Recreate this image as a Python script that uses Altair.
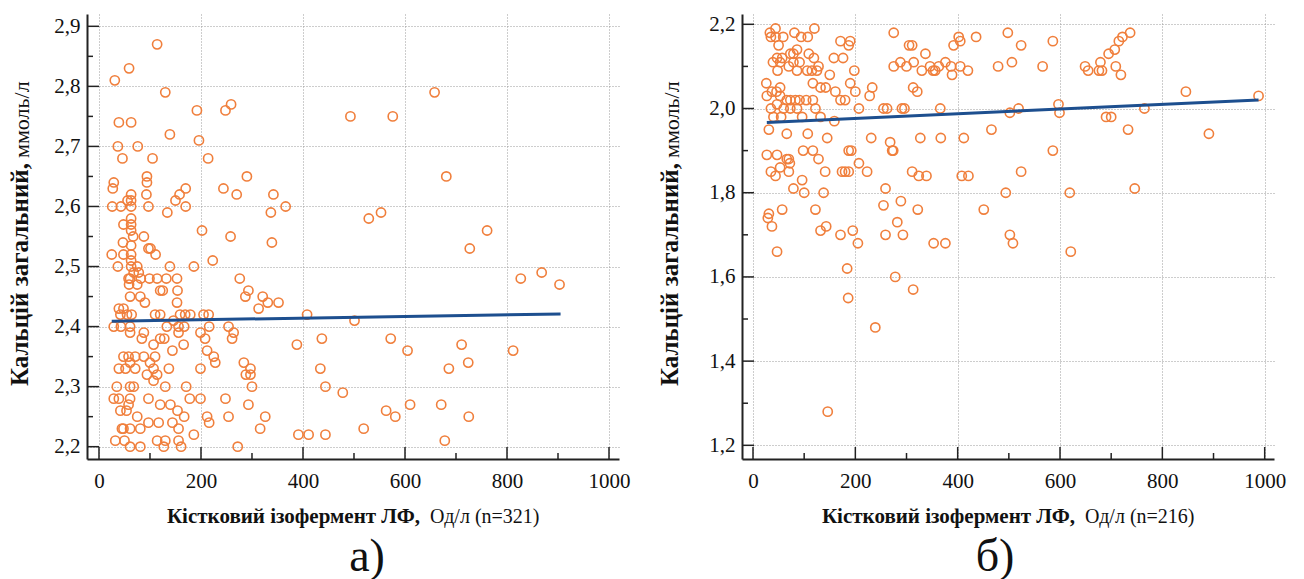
import altair as alt
import pandas as pd

# ---------------- data ----------------
left_x = [114, 59, 31, 130, 192, 248, 259, 39, 63, 139, 37, 76, 196, 46, 105, 214, 94, 94, 290, 29, 27,
          63, 63, 63, 56, 26, 43, 93, 97, 134, 150, 158, 170, 170, 244, 270, 342, 366, 337, 339, 258, 202,
          223, 186, 139, 48, 63, 63, 63, 67, 47, 25, 48, 37, 88, 97, 101, 111, 63, 63, 63, 63, 75, 68, 78,
          58, 61, 82, 99, 114, 132, 153, 276,
          59, 75, 61, 81, 120, 125, 154, 287, 293, 321,
          153, 90, 331, 352, 39, 48, 313,
          55, 64, 42, 110, 120, 159, 169, 179, 205, 215, 408,
          29, 43, 61, 133, 156, 167, 216, 254, 146,
          61, 88, 156, 199, 264,
          208, 261, 120, 84, 107, 128, 166, 388, 437,
          212, 144, 225, 228,
          48, 58, 71, 88, 110,
          61, 100, 107,
          39, 52, 71, 94, 114, 137, 199,
          284, 297, 297, 288, 434,
          300, 35, 61, 68, 107, 130, 171, 444,
          29, 39, 61, 97, 178, 199, 248,
          58, 120, 140, 293,
          42, 54, 75, 167, 154, 212, 254, 326,
          45, 48, 61, 81, 97, 117, 144, 156, 216, 316,
          32, 50, 61, 81, 114, 127, 130, 156, 161,
          186, 272, 391, 411, 444,
          493, 576, 658, 681, 529, 553, 761, 727, 827, 868, 903,
          501, 572, 605, 711, 724, 686, 812, 478, 563, 581, 610, 671, 725, 519, 678]
left_y = [2.87, 2.83, 2.81, 2.79, 2.76, 2.76, 2.77, 2.74, 2.74, 2.72, 2.70, 2.70, 2.71, 2.68, 2.68, 2.68, 2.65, 2.64, 2.65, 2.64, 2.63,
          2.62, 2.61, 2.60, 2.61, 2.60, 2.60, 2.62, 2.60, 2.59, 2.61, 2.62, 2.63, 2.60, 2.63, 2.62, 2.62, 2.60, 2.59, 2.54, 2.55, 2.56,
          2.51, 2.50, 2.50, 2.57, 2.58, 2.57, 2.56, 2.55, 2.54, 2.52, 2.52, 2.50, 2.55, 2.53, 2.53, 2.52, 2.535, 2.52, 2.51, 2.50, 2.50, 2.49, 2.49,
          2.48, 2.48, 2.48, 2.48, 2.48, 2.48, 2.48, 2.48,
          2.47, 2.47, 2.45, 2.45, 2.46, 2.46, 2.46, 2.45, 2.46, 2.45,
          2.44, 2.44, 2.44, 2.44, 2.43, 2.43, 2.43,
          2.42, 2.42, 2.42, 2.42, 2.42, 2.42, 2.42, 2.42, 2.42, 2.42, 2.42,
          2.40, 2.40, 2.40, 2.40, 2.40, 2.40, 2.40, 2.40, 2.41,
          2.39, 2.39, 2.39, 2.39, 2.39,
          2.38, 2.38, 2.38, 2.38, 2.37, 2.38, 2.37, 2.37, 2.38,
          2.36, 2.36, 2.35, 2.34,
          2.35, 2.35, 2.35, 2.35, 2.35,
          2.34, 2.34, 2.33,
          2.33, 2.33, 2.33, 2.32, 2.32, 2.33, 2.33,
          2.34, 2.33, 2.32, 2.32, 2.33,
          2.30, 2.30, 2.30, 2.30, 2.31, 2.30, 2.30, 2.30,
          2.28, 2.28, 2.28, 2.28, 2.28, 2.28, 2.28,
          2.27, 2.27, 2.27, 2.27,
          2.26, 2.26, 2.25, 2.25, 2.26, 2.25, 2.25, 2.25,
          2.23, 2.23, 2.23, 2.23, 2.24, 2.24, 2.24, 2.23, 2.24, 2.23,
          2.21, 2.21, 2.20, 2.20, 2.21, 2.20, 2.21, 2.21, 2.20,
          2.22, 2.20, 2.22, 2.22, 2.22,
          2.75, 2.75, 2.79, 2.65, 2.58, 2.59, 2.56, 2.53, 2.48, 2.49, 2.47,
          2.41, 2.38, 2.36, 2.37, 2.34, 2.33, 2.36, 2.29, 2.26, 2.25, 2.27, 2.27, 2.25, 2.23, 2.21]

right_x = [26, 33, 44, 35, 44, 59, 81, 94, 107, 120,
           39, 47, 53, 57, 50, 48, 70, 79, 91, 73, 79, 86, 109, 119, 106, 115, 125, 86, 117, 128, 150, 132, 142,
           27, 37, 46, 53, 47, 53,
           66, 73, 83, 91, 104, 117,
           35, 40, 55, 60, 73, 86, 96, 122, 132,
           31, 66, 107, 145, 159,
           161, 171, 180, 158, 176, 171, 190, 187, 198, 190, 200, 207, 228, 233, 231, 255, 262,
           275, 275, 288, 300, 305, 311, 314, 337,
           330, 346, 352, 356, 363, 376, 387, 389, 405, 420,
           392, 402, 405, 436,
           313, 321, 291, 296, 366,
           268, 272, 274, 327, 367, 412,
           187, 192, 98, 117, 128, 27, 47, 66, 70, 72,
           35, 44, 53, 70, 141, 174, 180, 187, 207, 223, 311, 324, 339, 408, 421,
           79, 96, 100, 138, 259,
           31, 29, 37, 57, 122, 132, 143, 171, 195, 205, 47, 255, 289, 282, 259, 293, 322, 353, 376,
           184, 278, 313, 186, 239, 146,
           498, 524, 586, 479, 506, 566, 649, 655, 679, 676, 682, 695, 707, 715, 722, 737, 709, 719,
           846, 988, 502, 519, 597, 599, 690, 700, 765, 466, 733, 891, 586, 524, 494, 619, 746, 451, 502, 508, 621]
right_y = [2.06, 2.18, 2.19, 2.17, 2.17, 2.17, 2.18, 2.17, 2.17, 2.19,
           2.11, 2.12, 2.11, 2.12, 2.15, 2.09, 2.10, 2.11, 2.11, 2.13, 2.13, 2.14, 2.13, 2.12, 2.09, 2.09, 2.09, 2.09, 2.06, 2.10, 2.08, 2.05, 2.05,
           2.03, 2.04, 2.04, 2.05, 2.01, 2.03,
           2.02, 2.02, 2.02, 2.02, 2.02, 2.02,
           2.00, 1.98, 1.98, 2.00, 2.00, 2.00, 1.98, 2.00, 1.98,
           1.95, 1.94, 1.94, 1.93, 1.97,
           2.04, 2.02, 2.02, 2.12, 2.12, 2.16, 2.16, 2.15, 2.09, 2.06, 2.04, 2.00, 2.03, 2.05, 1.93, 2.00, 2.00,
           2.18, 2.10, 2.11, 2.10, 2.15, 2.15, 2.11, 2.13,
           2.09, 2.10, 2.09, 2.09, 2.10, 2.11, 2.10, 2.08, 2.10, 2.09,
           2.15, 2.17, 2.16, 2.17,
           2.05, 2.04, 2.00, 2.00, 2.00,
           1.92, 1.90, 1.90, 1.93, 1.93, 1.93,
           1.90, 1.90, 1.90, 1.90, 1.88, 1.89, 1.89, 1.88, 1.88, 1.87,
           1.85, 1.84, 1.86, 1.85, 1.85, 1.85, 1.85, 1.85, 1.87, 1.85, 1.85, 1.84, 1.84, 1.84, 1.84,
           1.81, 1.83, 1.80, 1.80, 1.81,
           1.75, 1.74, 1.72, 1.76, 1.76, 1.71, 1.72, 1.70, 1.71, 1.68, 1.66, 1.77, 1.78, 1.73, 1.70, 1.70, 1.76, 1.68, 1.68,
           1.62, 1.60, 1.57, 1.55, 1.48, 1.28,
           2.18, 2.15, 2.16, 2.10, 2.11, 2.10, 2.10, 2.09, 2.11, 2.09, 2.09, 2.13, 2.14, 2.16, 2.17, 2.18, 2.10, 2.08,
           2.04, 2.03, 1.99, 2.00, 2.01, 1.99, 1.98, 1.98, 2.00, 1.95, 1.95, 1.94, 1.90, 1.85, 1.80, 1.80, 1.81, 1.76, 1.70, 1.68, 1.66]

# regression lines (end points)
left_reg_x = [25, 905]
left_reg_y = [2.409, 2.421]
right_reg_x = [27, 988]
right_reg_y = [1.967, 2.020]

x_major = [0, 200, 400, 600, 800, 1000]
x_minor = [100, 300, 500, 700, 900]
left_y_major = [2.2, 2.3, 2.4, 2.5, 2.6, 2.7, 2.8, 2.9]
left_y_minor = [2.25, 2.35, 2.45, 2.55, 2.65, 2.75, 2.85]
right_y_major = [1.2, 1.4, 1.6, 1.8, 2.0, 2.2]
right_y_minor = [1.3, 1.5, 1.7, 1.9, 2.1]

y_title_bold = "Кальцій загальний,"
y_title_unit = "ммоль/л"
x_title_bold = "Кістковий ізофермент ЛФ,"
x_title_unit_left = "Од/л (n=321)"
x_title_unit_right = "Од/л (n=216)"
panel_labels = ["а)", "б)"]

# ---------------- styling ----------------
W, H = 532, 445
SERIF = "Liberation Serif"
ORANGE = "#f07f3c"
BLUE = "#1d4f8f"
AX = "#222222"


def panel(px, py, rx, ry, ymaj, ymin, xdom, ydom, unit_text, label, lab_x, ytitle_x):
    pts = pd.DataFrame({"x": px, "y": py})
    reg = pd.DataFrame({"x": rx, "y": ry})
    xs = alt.Scale(domain=xdom, zero=False, nice=False)
    ys = alt.Scale(domain=ydom, zero=False, nice=False)
    x_axis = alt.Axis(
        values=x_major, title=None, ticks=False, domainColor=AX, domainWidth=2, format="d",
        labelFont=SERIF, labelFontSize=21, labelColor="#111", labelPadding=11,
        grid=True, gridColor="#9a9a9a", gridDash=[1, 2], gridWidth=1, labelFlush=False)
    y_axis = alt.Axis(
        values=ymaj, title=None, ticks=False, domainColor=AX, domainWidth=2,
        labelFont=SERIF, labelFontSize=21, labelColor="#111", labelPadding=7,
        labelExpr="replace(format(datum.value, '.1f'), '.', ',')",
        grid=True, gridColor="#9a9a9a", gridDash=[1, 2], gridWidth=1, labelFlush=False)

    points = alt.Chart(pts).mark_point(
        shape="circle", filled=False, size=85, strokeWidth=1.6, color=ORANGE, opacity=1
    ).encode(
        x=alt.X("x:Q", scale=xs, axis=x_axis),
        y=alt.Y("y:Q", scale=ys, axis=y_axis),
    )

    line = alt.Chart(reg).mark_line(color=BLUE, strokeWidth=3).encode(
        x=alt.X("x:Q", scale=xs, axis=x_axis), y=alt.Y("y:Q", scale=ys, axis=y_axis))

    def xticks(vals, ln):
        return alt.Chart(pd.DataFrame({"v": vals})).mark_rule(color=AX, strokeWidth=1.5).encode(
            x=alt.X("v:Q", scale=xs, axis=x_axis), y=alt.value(H), y2=alt.value(H - ln))

    def yticks(vals, ln):
        return alt.Chart(pd.DataFrame({"v": vals})).mark_rule(color=AX, strokeWidth=1.5).encode(
            y=alt.Y("v:Q", scale=ys, axis=y_axis), x=alt.value(0), x2=alt.value(ln))

    one = pd.DataFrame({"a": [0]})

    def text(t, x, y, size, bold=False, angle=0, align="center"):
        kw = dict(text=t, font=SERIF, fontSize=size, color="#111", align=align, baseline="alphabetic")
        if bold:
            kw["fontWeight"] = "bold"
        if angle:
            kw["angle"] = angle
        return alt.Chart(one).mark_text(**kw).encode(x=alt.value(x), y=alt.value(y))

    texts = [
        text(y_title_bold, ytitle_x, 149, 25, bold=True, angle=270, align="right"),
        text(y_title_unit, ytitle_x + 1, 144, 22, angle=270, align="left"),
        text(x_title_bold, 333, 509, 21, bold=True, align="right"),
        text(unit_text, 343, 509, 20, align="left"),
        text(label, lab_x, 557, 46),
    ]

    return alt.layer(points, line, xticks(x_major, 12), xticks(x_minor, 6),
                     yticks(ymaj, 12), yticks(ymin, 6), *texts).properties(width=W, height=H)


left = panel(left_x, left_y, left_reg_x, left_reg_y, left_y_major, left_y_minor,
             [-23.5, 1019.6], [2.1795, 2.9205], x_title_unit_left, panel_labels[0], 280, -59)
right = panel(right_x, right_y, right_reg_x, right_reg_y, right_y_major, right_y_minor,
              [-21.5, 1018.2], [1.1675, 2.2245], x_title_unit_right, panel_labels[1], 253, -64)

chart = alt.hconcat(left, right, spacing=123, bounds="flush").properties(
    padding={"left": 0, "top": 5, "right": 5, "bottom": 0}, background="white"
).configure_view(stroke=None)

chart.save("out.html", embed_options={"renderer": "svg", "actions": False})
